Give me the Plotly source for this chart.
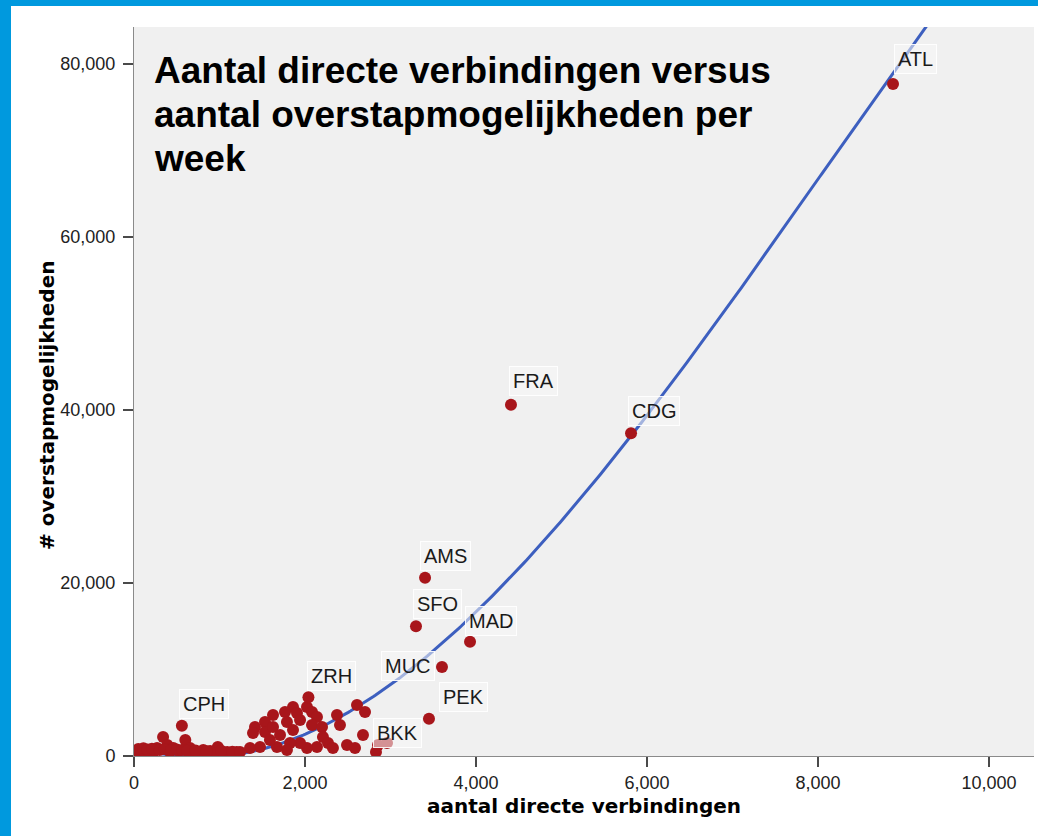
import numpy as np
import plotly.graph_objects as go

# ---------------- data ----------------
label_codes = ["ATL", "FRA", "CDG", "AMS", "SFO", "MAD", "MUC", "PEK", "ZRH", "CPH", "BKK"]
label_x = [8877, 4409, 5813, 3404, 3298, 3930, 3602, 3450, 2040, 560, 2830]
label_y = [77700, 40600, 37300, 20600, 15000, 13200, 10300, 4300, 6800, 3500, 460]

other_x = [70, 190, 270, 340, 390, 460, 600, 655, 810, 890, 980, 1090, 1200,
           30, 130, 230, 420, 520, 700, 760, 950,
           50, 110, 160, 210, 300, 360, 430, 500, 560, 620, 720, 850, 1020, 1150,
           2023, 1860, 1766, 1626, 1532, 1415, 1392, 1532, 1626, 1789, 1708,
           1906, 1942, 2082, 2140, 2082, 2199, 2210, 2269, 2140, 2023, 1942,
           1825, 1789, 1672, 1590, 1474, 1357, 1240, 2374, 2409, 2608, 2702,
           2678, 2491, 2585, 2854, 2959, 2327, 1860]
other_y = [460, 700, 920, 2200, 1270, 920, 1850, 925, 700, 580, 1040, 460, 460,
           300, 400, 500, 500, 600, 400, 300, 300,
           800, 900, 750, 850, 700, 800, 650, 750, 700, 600, 650, 550, 600, 500,
           5660, 5660, 5090, 4740, 3930, 3350, 2660, 2770, 3350, 3930, 2430,
           4970, 4160, 5090, 4510, 3580, 3350, 2200, 1500, 1040, 920, 1500,
           1500, 700, 1040, 1850, 1040, 920, 460, 4740, 3580, 5900, 5090,
           2430, 1270, 920, 1270, 1500, 920, 3000]

# cubic fit line shown in the picture: y = c3*x^3 + c2*x^2 + c1*x + c0
fit_coef = [-0.08443e-6, 2.0896e-3, -3.106, 1029.4]

x_ticks = [0, 2000, 4000, 6000, 8000, 10000]
y_ticks = [0, 20000, 40000, 60000, 80000]

title_lines = ["Aantal directe verbindingen versus",
               "aantal overstapmogelijkheden per",
               "week"]
x_title = "aantal directe verbindingen"
y_title = "# overstapmogelijkheden"

# ---------------- figure ----------------
W, H = 1038, 836
ML, MR, MT, MB = 134, 4, 27, 80
PW, PH = W - ML - MR, H - MT - MB
X_MAX, Y_MAX = 10526, 84280

fit_x = np.linspace(0, X_MAX, 400)
fit_y = np.polyval(fit_coef, fit_x)


def px_x(p):
    return (p - ML) / PW


def px_y(p):
    return (MT + PH - p) / PH


red = "#a8161b"
blue = "#3d5fbf"

fig = go.Figure()
fig.add_trace(go.Scatter(x=fit_x, y=fit_y, mode="lines",
                         line=dict(color=blue, width=3), hoverinfo="skip",
                         showlegend=False))
fig.add_trace(go.Scatter(x=other_x, y=other_y, mode="markers",
                         marker=dict(color=red, size=12, line=dict(width=0)),
                         showlegend=False))
fig.add_trace(go.Scatter(x=label_x, y=label_y, mode="markers",
                         marker=dict(color=red, size=12, line=dict(width=0)),
                         text=label_codes, showlegend=False))

# label offsets (pixels, text centre relative to point)
label_offsets = {"ATL": (22, 25), "FRA": (23, 24), "CDG": (23, 22), "AMS": (20, 22),
                 "SFO": (22, 22), "MAD": (21, 21), "MUC": (-34, 1), "PEK": (35, 22),
                 "ZRH": (23, 21), "CPH": (22, 22), "BKK": (22, 19)}
for code, xv, yv in zip(label_codes, label_x, label_y):
    dx, dy = label_offsets[code]
    fig.add_annotation(x=xv, y=yv, xref="x", yref="y", text=code, showarrow=False,
                       xshift=dx, yshift=dy, xanchor="center", yanchor="middle",
                       font=dict(family="Liberation Sans, Arial", size=20, color="#1a1a1a"),
                       bgcolor="rgba(248,248,248,0.55)", bordercolor="rgba(255,255,255,0.9)",
                       borderwidth=1, borderpad=3)

# chart title inside the plot
for i, line in enumerate(title_lines):
    fig.add_annotation(x=px_x(152), y=px_y(70 + 44 * i), xref="paper", yref="paper",
                       text="<b>" + line + "</b>", showarrow=False,
                       xanchor="left", yanchor="middle",
                       font=dict(family="Liberation Sans, Arial", size=37, color="#000000"))

# axis titles
fig.add_annotation(x=0.5, y=px_y(806), xref="paper", yref="paper",
                   text="<b>" + x_title + "</b>", showarrow=False,
                   xanchor="center", yanchor="middle",
                   font=dict(family="DejaVu Sans", size=20, color="#000000"))
fig.add_annotation(x=px_x(47), y=px_y(406), xref="paper", yref="paper",
                   text="<b>" + y_title + "</b>", showarrow=False, textangle=-90,
                   xanchor="center", yanchor="middle",
                   font=dict(family="DejaVu Sans", size=20, color="#000000"))

# blue frame edges
frame = "#0099de"
fig.add_shape(type="rect", xref="paper", yref="paper", layer="above",
              x0=px_x(0), x1=px_x(11), y0=px_y(H), y1=px_y(0),
              fillcolor=frame, line=dict(width=0))
fig.add_shape(type="rect", xref="paper", yref="paper", layer="above",
              x0=px_x(0), x1=px_x(W), y0=px_y(6), y1=px_y(0),
              fillcolor=frame, line=dict(width=0))

axis_common = dict(showgrid=False, zeroline=False, showline=True, linecolor="#8a8a8a",
                   linewidth=1, ticks="outside", ticklen=10, tickwidth=2,
                   tickcolor="#4a4a4a", tickformat=",",
                   tickfont=dict(family="Liberation Sans, Arial", size=18, color="#222222"))
fig.update_xaxes(range=[0, X_MAX], tickvals=x_ticks, **axis_common)
fig.update_yaxes(range=[0, Y_MAX], tickvals=y_ticks, ticklabelstandoff=4, **axis_common)

fig.update_layout(width=W, height=H,
                  margin=dict(l=ML, r=MR, t=MT, b=MB, pad=0),
                  paper_bgcolor="#ffffff", plot_bgcolor="#f0f0f0",
                  showlegend=False)

fig.write_html("out.html", config={"displayModeBar": False},
               post_script="document.body.style.margin='0px';document.body.style.padding='0px';")
